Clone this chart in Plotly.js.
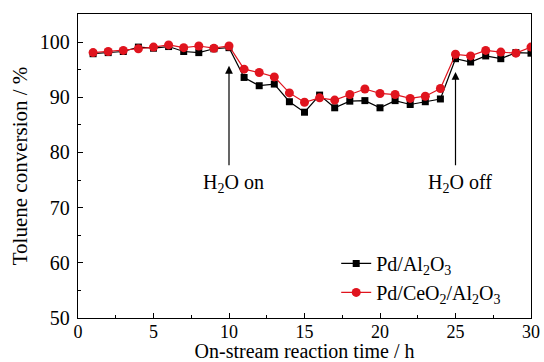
<!DOCTYPE html>
<html><head><meta charset="utf-8">
<script src="https://cdn.plot.ly/plotly-3.0.1.min.js"></script>
<style>body{margin:0;background:#fff}#c{width:544px;height:362px}</style>
</head><body><div id="c"></div>
<script>
const hours = [1,2,3,4,5,6,7,8,9,10,11,12,13,14,15,16,17,18,19,20,21,22,23,24,25,26,27,28,29,30];
const pdAl2O3 = [97.9,98.1,98.3,99.1,98.9,99.2,98.3,98.1,98.8,99.0,93.6,92.1,92.4,89.2,87.3,90.4,88.1,89.3,89.4,88.1,89.4,88.7,89.2,89.7,97.0,96.4,97.5,97.0,98.1,98.0];
const pdCeO2Al2O3 = [98.1,98.3,98.5,98.8,99.1,99.5,99.0,99.3,98.9,99.3,95.1,94.5,93.7,90.8,89.1,89.9,89.5,90.5,91.5,90.7,90.5,89.8,90.2,91.6,97.8,97.5,98.5,98.2,98.0,99.1];
const seriesNames = ['Pd/Al<sub>2</sub>O<sub>3</sub>','Pd/CeO<sub>2</sub>/Al<sub>2</sub>O<sub>3</sub>'];
const events = [{x:10, label:'H<sub>2</sub>O on'},{x:25, label:'H<sub>2</sub>O off'}];
const arrowTip = [95.7, 94.6];
const arrowTail = 77.4;

const font = {family:'Liberation Serif, Times New Roman, serif', color:'#000'};
const F = s => Object.assign({}, font, {size:s});
const traces = [
  {x:hours, y:pdAl2O3, name:seriesNames[0], mode:'lines+markers', type:'scatter',
   line:{color:'#000', width:1.2}, marker:{symbol:'square', size:7, color:'#000'}},
  {x:hours, y:pdCeO2Al2O3, name:seriesNames[1], mode:'lines+markers', type:'scatter',
   line:{color:'#e0141e', width:1.2}, marker:{symbol:'circle', size:9, color:'#e0141e'}}
];
const annotations = [];
events.forEach((e,i)=>{
  annotations.push({x:e.x, y:arrowTip[i], xref:'x', yref:'y', ax:e.x, ay:arrowTail, axref:'x', ayref:'y',
    showarrow:true, arrowhead:2, arrowsize:1.3, arrowwidth:1.2, arrowcolor:'#000', text:''});
  annotations.push({x:e.x, y:arrowTail, xref:'x', yref:'y', yanchor:'top', yshift:-2, xshift:4, showarrow:false,
    text:e.label, font:F(20)});
});
const axisCommon = {showline:true, linecolor:'#000', linewidth:1.2, mirror:true, ticks:'inside',
  ticklen:5, tickwidth:1, tickcolor:'#000', showgrid:false, zeroline:false,
  tickfont:F(20)};
const layout = {
  width:544, height:362, margin:{l:78, r:13, t:14, b:44},
  paper_bgcolor:'#fff', plot_bgcolor:'#fff', font:font,
  xaxis:Object.assign({}, axisCommon, {range:[0,30], dtick:5, tick0:0, tickfont:F(18), ticklabelstandoff:-3,
    minor:{dtick:2.5, ticks:'inside', ticklen:3, tickcolor:'#000'},
    title:{text:'On-stream reaction time / h', font:F(20), standoff:4}}),
  yaxis:Object.assign({}, axisCommon, {range:[50,105.1], dtick:10, tick0:50, ticklabelstandoff:3,
    minor:{dtick:5, ticks:'inside', ticklen:3, tickcolor:'#000'},
    title:{text:'Toluene conversion / %', font:F(21), standoff:6}}),
  legend:{x:0.57, y:0.02, xanchor:'left', yanchor:'bottom', bgcolor:'rgba(0,0,0,0)',
    font:F(20), tracegroupgap:0},
  showlegend:true, annotations:annotations
};
Plotly.newPlot('c', traces, layout, {staticPlot:true});
</script></body></html>
